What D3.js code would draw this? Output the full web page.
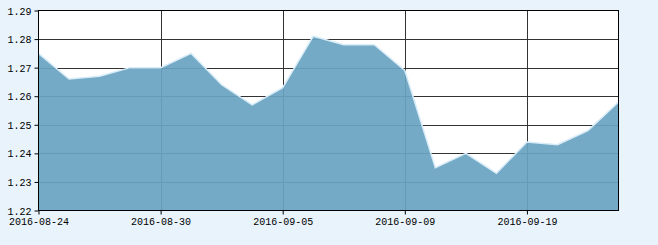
<!DOCTYPE html>
<html><head><meta charset="utf-8">
<script src="https://cdn.jsdelivr.net/npm/d3@7"></script>
<style>
html,body{margin:0;padding:0;background:#e8f3fb;}
svg{display:block;}
text{font-family:"Liberation Mono","DejaVu Sans Mono",monospace;font-size:10px;fill:#000;}
</style></head>
<body>
<svg id="c" width="658" height="245"></svg>
<script>
const dates = ["2016-08-24","2016-08-25","2016-08-26","2016-08-29","2016-08-30","2016-08-31","2016-09-01","2016-09-02","2016-09-05","2016-09-06","2016-09-07","2016-09-08","2016-09-09","2016-09-12","2016-09-13","2016-09-14","2016-09-19","2016-09-20","2016-09-21","2016-09-22"];
const values = [1.275,1.266,1.267,1.270,1.270,1.275,1.264,1.257,1.263,1.281,1.278,1.278,1.269,1.235,1.240,1.233,1.244,1.243,1.248,1.258];
const xTickLabels = ["2016-08-24","2016-08-30","2016-09-05","2016-09-09","2016-09-19"];
const yTicks = [1.22,1.23,1.24,1.25,1.26,1.27,1.28,1.29];

const svg = d3.select("#c");
const L = 38.5, R = 618.5, T = 10.5, B = 210.5;
const x = d3.scalePoint().domain(dates).range([L, R]);
const y = d3.scaleLinear().domain([1.22, 1.29]).range([B, T]);

svg.append("rect").attr("x", L).attr("y", T).attr("width", R - L).attr("height", B - T).attr("fill", "#fff");

// grid
const g = svg.append("g").attr("stroke", "#333").attr("stroke-width", 1);
g.selectAll("line.h").data(yTicks.slice(1, -1)).enter().append("line")
  .attr("x1", L).attr("x2", R)
  .attr("y1", d => Math.round(y(d)) + 0.5).attr("y2", d => Math.round(y(d)) + 0.5);
g.selectAll("line.v").data(xTickLabels.slice(1)).enter().append("line")
  .attr("y1", T).attr("y2", B)
  .attr("x1", d => Math.round(x(d)) + 0.5).attr("x2", d => Math.round(x(d)) + 0.5);

// area
const area = d3.area().x(d => x(d[0])).y0(B).y1(d => y(d[1]));
const line = d3.line().x(d => x(d[0])).y(d => y(d[1]));
const pts = dates.map((d, i) => [d, values[i]]);
svg.append("path").datum(pts).attr("d", area).attr("fill", "rgb(107,164,195)").attr("fill-opacity", 0.93);
svg.append("path").datum(pts).attr("d", line).attr("fill", "none").attr("stroke", "#d8ecf8").attr("stroke-width", 1.5);

// border
svg.append("rect").attr("x", L).attr("y", T).attr("width", R - L).attr("height", B - T)
  .attr("fill", "none").attr("stroke", "#000").attr("stroke-width", 1);

// y axis
const yAxis = d3.axisLeft(y).tickValues(yTicks).tickSize(4).tickPadding(3).tickFormat(d3.format(".2f"));
const ya = svg.append("g").attr("transform", `translate(${L},0)`).call(yAxis);
ya.select(".domain").remove();
ya.selectAll("line").attr("stroke", "#000");
ya.selectAll("text").attr("font-family", null).attr("font-size", null).attr("dy", "0.35em");

// x axis
const xAxis = d3.axisBottom(x).tickValues(xTickLabels).tickSize(4).tickPadding(3);
const xa = svg.append("g").attr("transform", `translate(0,${B})`).call(xAxis);
xa.select(".domain").remove();
xa.selectAll("line").attr("stroke", "#000");
xa.selectAll("text").attr("font-family", null).attr("font-size", null);
</script>
</body></html>
